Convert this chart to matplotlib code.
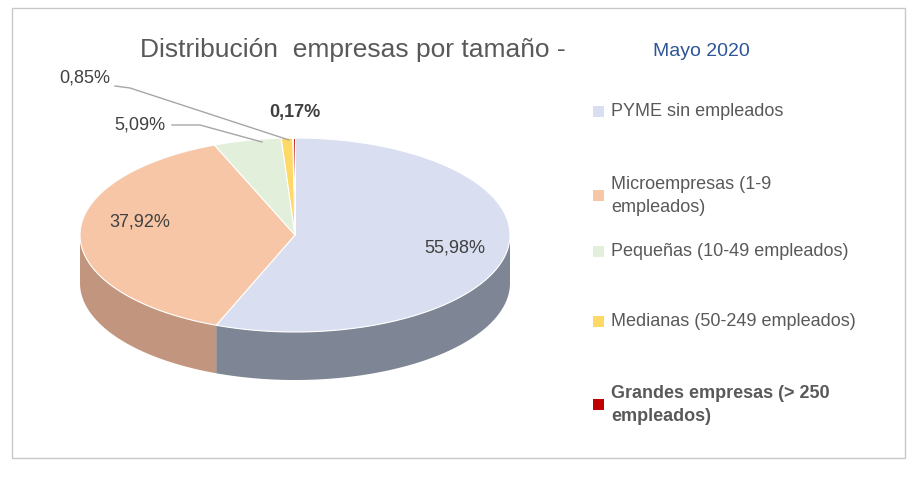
import numpy as np
import matplotlib
matplotlib.use("Agg")
import matplotlib.pyplot as plt
from matplotlib.patches import Polygon, Rectangle

plt.rcParams['font.family'] = ['Liberation Sans Narrow', 'Liberation Sans', 'DejaVu Sans']

# datos
categorias = ["PYME sin empleados", "Microempresas (1-9\nempleados)",
              "Pequeñas (10-49 empleados)", "Medianas (50-249 empleados)",
              "Grandes empresas (> 250\nempleados)"]
valores = [55.98, 37.92, 5.09, 0.85, 0.17]
etiquetas = ["55,98%", "37,92%", "5,09%", "0,85%", "0,17%"]
colores = ["#D9DFF0", "#F6C6A7", "#E2EFDA", "#FFD966", "#C00000"]
colores_lado = ["#7E8594", "#C2967E", "#A9B8A2", "#C9A640", "#8A0000"]

W, H = 918, 482
fig = plt.figure(figsize=(W / 100, H / 100), dpi=100)
ax = fig.add_axes([0, 0, 1, 1])
ax.set_xlim(0, W)
ax.set_ylim(H, 0)
ax.axis("off")

ax.add_patch(Rectangle((12, 8), 893, 450, fill=False, edgecolor="#C8C8C8", lw=1))

cx, cy, rx, ry, prof = 295, 235, 215, 97, 48

def pt(t):
    return cx + rx * np.cos(t), cy - ry * np.sin(t)

frac = np.array(valores) / sum(valores)
fin = np.cumsum(frac)
inicio = fin - frac
angulos = [(np.pi / 2 - 2 * np.pi * b, np.pi / 2 - 2 * np.pi * a) for a, b in zip(inicio, fin)]

# lados
for (t0, t1), c in zip(angulos, colores_lado):
    ts = np.linspace(t0, t1, 200)
    ts = ts[np.sin(ts) <= 0]
    if len(ts) < 2:
        continue
    x, y = pt(ts)
    xs = np.concatenate([x, x[::-1]])
    ys = np.concatenate([y, (y + prof)[::-1]])
    ax.add_patch(Polygon(np.column_stack([xs, ys]), closed=True, facecolor=c, edgecolor="none"))

# tapas
for (t0, t1), c in zip(angulos, colores):
    ts = np.linspace(t0, t1, 200)
    x, y = pt(ts)
    xs = np.concatenate([[cx], x])
    ys = np.concatenate([[cy], y])
    ax.add_patch(Polygon(np.column_stack([xs, ys]), closed=True, facecolor=c, edgecolor="white", lw=0.8))

# etiquetas
txt = dict(color="#404040", fontsize=13)
ax.text(455, 248, etiquetas[0], ha="center", va="center", **txt)
ax.text(140, 222, etiquetas[1], ha="center", va="center", **txt)
ax.text(140, 125, etiquetas[2], ha="center", va="center", **txt)
ax.text(85, 78, etiquetas[3], ha="center", va="center", **txt)
ax.text(295, 113, etiquetas[4], ha="center", va="center", fontweight="bold", **txt)
ax.plot([172, 200, 262], [125, 125, 142], color="#A6A6A6", lw=1)
ax.plot([115, 130, 289], [86, 88, 140], color="#A6A6A6", lw=1)

# título
ax.text(140, 50, "Distribución  empresas por tamaño -", ha="left", va="center",
        fontsize=19, color="#595959")
ax.text(653, 52, "Mayo 2020", ha="left", va="center", fontsize=14, color="#2F5597")

# leyenda
ys_ley = [112, 196, 252, 322, 405]
for nombre, c, yl, i in zip(categorias, colores, ys_ley, range(5)):
    ax.add_patch(Rectangle((593, yl - 6), 11, 11, facecolor=c, edgecolor="none"))
    ax.text(611, yl, nombre, ha="left", va="center", fontsize=13, color="#595959",
            fontweight="bold" if i == 4 else "normal", linespacing=1.4)

fig.savefig("out.png", dpi=100)
